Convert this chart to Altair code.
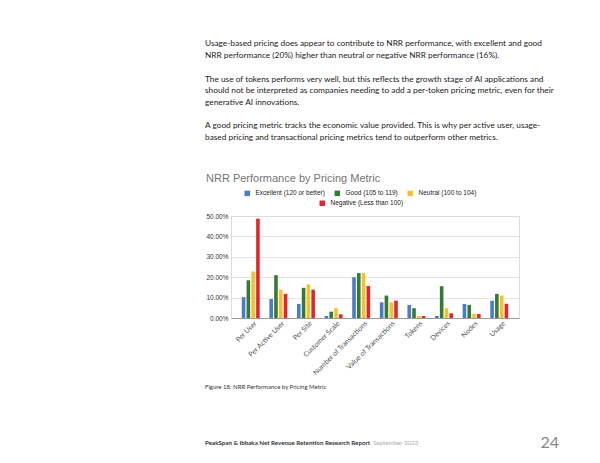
import altair as alt
import pandas as pd

categories = ["Per User", "Per Active User", "Per Site", "Customer Scale",
              "Number of Transactions", "Value of Transactions", "Tokens",
              "Devices", "Nodes", "Usage"]
series_names = ["Excellent (120 or better)", "Good (105 to 119)",
                "Neutral (100 to 104)", "Negative (Less than 100)"]
excellent = [10.2, 9.3, 6.9, 1.0, 20.0, 7.7, 6.4, 1.0, 6.9, 8.5]
good = [18.5, 21.0, 14.8, 3.1, 22.0, 11.0, 4.8, 15.6, 6.4, 11.8]
neutral = [22.8, 13.9, 16.4, 4.8, 22.0, 7.7, 1.1, 4.8, 2.1, 11.0]
negative = [48.7, 11.8, 13.9, 1.8, 15.7, 8.5, 1.0, 2.3, 2.0, 7.0]
colors = ["#4a7bc8", "#347a34", "#f5c12e", "#e2262b"]
y_ticks = [0, 0.1, 0.2, 0.3, 0.4, 0.5]

para1 = ("Usage-based pricing does appear to contribute to NRR performance, with excellent and good\n"
         "NRR performance (20%) higher than neutral or negative NRR performance (16%).")
para2 = ("The use of tokens performs very well, but this reflects the growth stage of AI applications and\n"
         "should not be interpreted as companies needing to add a per-token pricing metric, even for their\n"
         "generative AI innovations.")
para3 = ("A good pricing metric tracks the economic value provided. This is why per active user, usage-\n"
         "based pricing and transactional pricing metrics tend to outperform other metrics.")
chart_title = "NRR Performance by Pricing Metric"
caption = "Figure 18: NRR Performance by Pricing Metric"
footer_bold = "PeakSpan & Ibbaka Net Revenue Retention Research Report"
footer_date = "September 2023"
page_no = "24"

rows = []
for i, c in enumerate(categories):
    for s, vals in zip(series_names, [excellent, good, neutral, negative]):
        rows.append({"category": c, "series": s, "value": vals[i] / 100})
df = pd.DataFrame(rows)

one = pd.DataFrame({"k": [0]})

bars = alt.Chart(df).mark_bar().encode(
    x=alt.X("category:N", sort=categories, title=None,
            scale=alt.Scale(paddingInner=0.35, paddingOuter=0.39),
            axis=alt.Axis(labelAngle=-45, labelFont="Lato", labelFontSize=7,
                          labelColor="#555", ticks=False, domain=True,
                          domainColor="#999", labelPadding=4, labelOffset=5,
                          labelAlign="right", labelBaseline="middle")),
    xOffset=alt.XOffset("series:N", sort=series_names,
                        scale=alt.Scale(paddingInner=0.25)),
    y=alt.Y("value:Q", title=None,
            scale=alt.Scale(domain=[0, 0.5], nice=False),
            axis=alt.Axis(values=y_ticks, format=".2%", domain=False, ticks=False,
                          labelFont="Liberation Sans", labelFontSize=6.5,
                          labelColor="#333", labelPadding=3,
                          gridColor="#dcdcdc", gridWidth=0.8)),
    color=alt.Color("series:N", sort=series_names,
                    scale=alt.Scale(domain=series_names, range=colors),
                    legend=alt.Legend(values=series_names[:3], title=None,
                                      orient="none", direction="horizontal",
                                      legendX=13, legendY=-26,
                                      symbolType="square", symbolSize=30,
                                      symbolStrokeWidth=0, labelOffset=5,
                                      columnPadding=9, padding=0,
                                      labelFont="Liberation Sans",
                                      labelFontSize=6.5, labelColor="#222")),
)

neg_legend = alt.Chart(pd.DataFrame({"series": [series_names[3]]})).mark_text(text="").encode(
    color=alt.Color("series:N",
                    scale=alt.Scale(domain=[series_names[3]], range=[colors[3]]),
                    legend=alt.Legend(title=None, orient="none",
                                      direction="horizontal",
                                      legendX=88, legendY=-16,
                                      symbolType="square", symbolSize=30,
                                      symbolStrokeWidth=0, labelOffset=5,
                                      padding=0, symbolOpacity=1,
                                      labelFont="Liberation Sans",
                                      labelFontSize=6.5, labelColor="#222")),
)

def txt(s, x, y, size, color, font="Lato", weight="normal", align="left",
        baseline="middle", line_height=None):
    kw = dict(align=align, baseline=baseline, font=font, fontSize=size,
              color=color, fontWeight=weight)
    if line_height:
        kw.update(lineBreak="\n", lineHeight=line_height)
    return alt.Chart(one).mark_text(**kw).encode(
        x=alt.value(x), y=alt.value(y), text=alt.value(s))

p1 = txt(para1, -26, -177, 8.3, "#222", baseline="top", line_height=11.5)
p2 = txt(para2, -26, -141.3, 8.3, "#222", baseline="top", line_height=11.5)
p3 = txt(para3, -26, -94.6, 8.3, "#222", baseline="top", line_height=11.5)
title = txt(chart_title, -25, -34.5, 11, "#757575", font="Liberation Sans",
            baseline="alphabetic")
cap = txt(caption, -26, 170.7, 6, "#333")
foot1 = txt(footer_bold, -26, 226.7, 6.2, "#333", weight="bold")
foot2 = txt(footer_date, 142, 226.7, 6.2, "#aaa")
pnum = txt(page_no, 328, 226.7, 16, "#888", align="right")

chart = alt.layer(bars, neg_legend, p1, p2, p3, title, cap, foot1, foot2, pnum).resolve_scale(
    color="independent"
).properties(
    width=288, height=102,
    padding={"left": 223, "top": 208, "right": 73, "bottom": 137},
    autosize=alt.AutoSizeParams(type="none"),
).configure_view(stroke=None).configure(background="white")

chart.save("out.html", embed_options={"renderer": "svg", "actions": False})
